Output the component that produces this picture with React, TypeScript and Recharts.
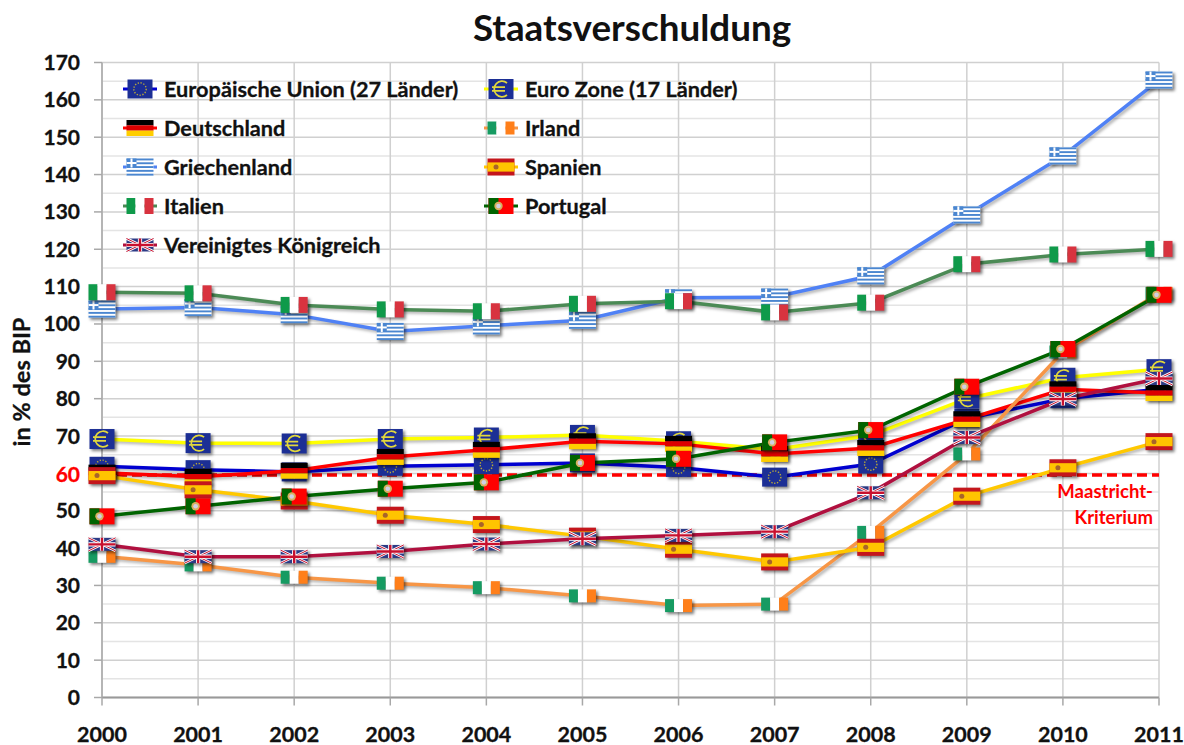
import React from "react";
import { LineChart, Line, XAxis, YAxis, CartesianGrid, ReferenceLine } from "recharts";

const years = ["2000","2001","2002","2003","2004","2005","2006","2007","2008","2009","2010","2011"];
const eu = [61.9, 61.0, 60.4, 61.9, 62.3, 62.8, 61.6, 59.0, 62.5, 74.7, 80.0, 82.5];
const euro = [69.2, 68.1, 68.0, 69.2, 69.6, 70.3, 68.6, 66.4, 70.2, 80.0, 85.6, 87.9];
const germany = [60.2, 59.1, 60.7, 64.4, 66.3, 68.6, 67.9, 65.2, 66.8, 74.5, 82.5, 81.5];
const ireland = [37.8, 35.5, 32.2, 30.6, 29.4, 27.2, 24.6, 25.0, 44.2, 65.2, 92.5, 108.2];
const greece = [104.0, 104.4, 102.5, 98.0, 99.5, 101.0, 107.0, 107.2, 112.9, 129.2, 145.0, 165.3];
const spain = [59.4, 55.6, 52.6, 48.8, 46.3, 43.2, 39.7, 36.3, 40.2, 53.9, 61.5, 68.5];
const italy = [108.5, 108.2, 105.1, 103.9, 103.4, 105.4, 106.1, 103.1, 105.7, 116.0, 118.6, 120.1];
const portugal = [48.5, 51.2, 53.8, 55.9, 57.6, 62.8, 63.9, 68.3, 71.6, 83.2, 93.3, 107.8];
const uk = [41.0, 37.7, 37.7, 39.1, 41.1, 42.5, 43.4, 44.4, 54.8, 69.6, 79.9, 85.4];
const yTicks = [0,10,20,30,40,50,60,70,80,90,100,110,120,130,140,150,160,170];
const minorTicks = [5,15,25,35,45,55,65,75,85,95,105,115,125,135,145,155,165];
const LIMIT_TICK = 60;
const LIMIT_LINE = 59.6;

type Kind = "eu"|"euro"|"de"|"ie"|"gr"|"es"|"it"|"pt"|"uk";
const seriesList: {key: Kind; name: string; color: string; values: number[]}[] = [
  { key: "eu", name: "Europäische Union (27 Länder)", color: "#0000d0", values: eu },
  { key: "euro", name: "Euro Zone (17 Länder)", color: "#ffff00", values: euro },
  { key: "de", name: "Deutschland", color: "#ff0000", values: germany },
  { key: "ie", name: "Irland", color: "#f79646", values: ireland },
  { key: "gr", name: "Griechenland", color: "#4f81f5", values: greece },
  { key: "es", name: "Spanien", color: "#ffc800", values: spain },
  { key: "it", name: "Italien", color: "#4b8a55", values: italy },
  { key: "pt", name: "Portugal", color: "#006400", values: portugal },
  { key: "uk", name: "Vereinigtes Königreich", color: "#b0103f", values: uk },
];
const data = years.map((year, i) => {
  const row: Record<string, number | string> = { year };
  seriesList.forEach((s) => { row[s.key] = s.values[i]; });
  return row;
});

const FONT = "Lato, 'Open Sans', sans-serif";
const INK = "#111";

function Flag({ kind, cx, cy }: { kind: Kind; cx: number; cy: number }) {
  const body = () => {
    switch (kind) {
      case "eu":
        return (<g>
          <rect x={-12.5} y={-9.5} width={25} height={19} fill="#1c2f95" />
          <circle r={6.2} fill="none" stroke="#b9a93a" strokeWidth={1.4} strokeDasharray="1.3 1.6" />
        </g>);
      case "euro":
        return (<g>
          <rect x={-12.5} y={-10} width={25} height={20} fill="#1c2f95" />
          <path d="M6 -6 A7.8 7.8 0 1 0 6 6 M-9 -1.8 H4 M-9 1.8 H4" fill="none" stroke="#e2d83c" strokeWidth={1.7} />
        </g>);
      case "de":
        return (<g>
          <rect x={-13.5} y={-8} width={27} height={5.4} fill="#000" />
          <rect x={-13.5} y={-2.7} width={27} height={5.4} fill="#dd0000" />
          <rect x={-13.5} y={2.6} width={27} height={5.4} fill="#ffce00" />
        </g>);
      case "ie":
        return (<g>
          <rect x={-13.5} y={-6.5} width={9} height={13} fill="#169b62" />
          <rect x={-4.5} y={-6.5} width={9} height={13} fill="#ffffff" />
          <rect x={4.5} y={-6.5} width={9} height={13} fill="#ff7f1a" />
        </g>);
      case "gr":
        return (<g>
          <rect x={-13.5} y={-8.5} width={27} height={17} fill="#ffffff" />
          {[-8.5,-4.7,-0.9,2.9,6.7].map((y) => <rect key={y} x={-13.5} y={y} width={27} height={1.9} fill="#4a86d0" />)}
          <rect x={-13.5} y={-8.5} width={10} height={9} fill="#4a86d0" />
          <rect x={-9.5} y={-8.5} width={2} height={9} fill="#fff" />
          <rect x={-13.5} y={-5} width={10} height={2} fill="#fff" />
        </g>);
      case "es":
        return (<g>
          <rect x={-13.5} y={-8.5} width={27} height={17} fill="#c4161c" />
          <rect x={-13.5} y={-4.6} width={27} height={9.2} fill="#ffc400" />
          <circle cx={-5} r={2.5} fill="#a8642a" />
        </g>);
      case "it":
        return (<g>
          <rect x={-13.5} y={-8} width={9} height={16} fill="#0f9a4a" />
          <rect x={-4.5} y={-8} width={9} height={16} fill="#ffffff" />
          <rect x={4.5} y={-8} width={9} height={16} fill="#d8333f" />
        </g>);
      case "pt":
        return (<g>
          <rect x={-12.5} y={-8} width={25} height={16} fill="#ff0000" />
          <rect x={-12.5} y={-8} width={10} height={16} fill="#006400" />
          <circle cx={-2.5} r={4.2} fill="#d8b060" />
          <circle cx={-2.5} r={2.3} fill="#d0d0e4" />
        </g>);
      case "uk":
        return (<g>
          <rect x={-13.5} y={-6.5} width={27} height={13} fill="#2c3a85" />
          <path d="M-13.5 -6.5 L13.5 6.5 M13.5 -6.5 L-13.5 6.5" stroke="#fff" strokeWidth={2.6} />
          <path d="M-13.5 -6.5 L13.5 6.5 M13.5 -6.5 L-13.5 6.5" stroke="#c8102e" strokeWidth={1} />
          <path d="M0 -6.5 V6.5 M-13.5 0 H13.5" stroke="#fff" strokeWidth={4.2} />
          <path d="M0 -6.5 V6.5 M-13.5 0 H13.5" stroke="#c8102e" strokeWidth={2.4} />
        </g>);
    }
  };
  return <g transform={`translate(${cx},${cy})`}>{body()}</g>;
}

const legendRows: { key: Kind; col: number; row: number }[] = [
  { key: "eu", col: 0, row: 0 }, { key: "euro", col: 1, row: 0 },
  { key: "de", col: 0, row: 1 }, { key: "ie", col: 1, row: 1 },
  { key: "gr", col: 0, row: 2 }, { key: "es", col: 1, row: 2 },
  { key: "it", col: 0, row: 3 }, { key: "pt", col: 1, row: 3 },
  { key: "uk", col: 0, row: 4 },
];

function LegendEntry({ k, col, row }: { k: Kind; col: number; row: number }) {
  const s = seriesList.find((x) => x.key === k)!;
  const cx = col === 0 ? 140 : 501;
  const cy = 89 + row * 39;
  return (
    <g>
      <line x1={cx - 17} x2={cx + 17} y1={cy} y2={cy} stroke={s.color} strokeWidth={3} />
      <Flag kind={k} cx={cx} cy={cy} />
      <text x={cx + 24} y={cy + 7.5} fontFamily={FONT} fontWeight={700} fontSize={21.7} fill={INK} stroke={INK} strokeWidth={0.3}>{s.name}</text>
    </g>
  );
}

function YTick({ x, y, payload }: any) {
  const isLimit = payload.value === LIMIT_TICK;
  const c = isLimit ? "#ff0000" : INK;
  return (
    <text x={x - 12} y={y + (isLimit ? 9 : 7.5)} textAnchor="end" fontFamily={FONT} fontWeight={700} fontSize={21} fill={c} stroke={c} strokeWidth={0.3}>{payload.value}</text>
  );
}
function XTick({ x, y, payload }: any) {
  return (
    <text x={x} y={y + 34} textAnchor="middle" fontFamily={FONT} fontWeight={700} fontSize={21.5} fill={INK} stroke={INK} strokeWidth={0.3}>{payload.value}</text>
  );
}

const css = `
body { margin: 0; background: #fff; }
.recharts-line-curve { filter: drop-shadow(2px 2.5px 1.5px rgba(0,0,0,.3)); }
.recharts-line-dot { filter: drop-shadow(2px 2px 1.5px rgba(0,0,0,.5)); }
`;

export default function App() {
  return (
    <div style={{ width: 1184, height: 745 }}>
      <style>{css}</style>
      <LineChart width={1184} height={745} data={data} margin={{ top: 62.5, right: 25, bottom: 0, left: 0 }}>
        <CartesianGrid horizontalValues={minorTicks} vertical={false} stroke="#e4e4e4" strokeWidth={1.5} />
        <CartesianGrid horizontalValues={yTicks} stroke="#d0d0d0" strokeWidth={1.5} />
        <XAxis dataKey="year" height={47.5} interval={0} tick={<XTick />} tickSize={8}
          tickLine={{ stroke: "#a8a8a8", strokeWidth: 1.5 }} axisLine={{ stroke: "#999", strokeWidth: 2 }} />
        <YAxis width={102} domain={[0, 170]} ticks={yTicks} interval={0} tick={<YTick />} tickSize={8}
          tickLine={{ stroke: "#a8a8a8", strokeWidth: 1.5 }} axisLine={{ stroke: "#a8a8a8", strokeWidth: 1.5 }} />
        <ReferenceLine y={LIMIT_LINE} stroke="#ff0000" strokeWidth={3.5} strokeDasharray="10 5" />
        {seriesList.map((s) => (
          <Line key={s.key} dataKey={s.key} stroke={s.color} strokeWidth={3.5} isAnimationActive={false}
            dot={(p: any) => <g key={p.index} className="recharts-line-dot"><Flag kind={s.key} cx={p.cx} cy={p.cy} /></g>} />
        ))}
        <text x={632} y={41} textAnchor="middle" fontFamily={FONT} fontWeight={700} fontSize={36.8} fill={INK}>Staatsverschuldung</text>
        <text transform="translate(30,382) rotate(-90)" textAnchor="middle" fontFamily={FONT} fontWeight={700} fontSize={23.5} fill={INK} stroke={INK} strokeWidth={0.3}>in % des BIP</text>
        <text x={1153} y={498} textAnchor="end" fontFamily={FONT} fontWeight={700} fontSize={18.5} fill="#ff0000">Maastricht-</text>
        <text x={1153} y={524} textAnchor="end" fontFamily={FONT} fontWeight={700} fontSize={18.5} fill="#ff0000">Kriterium</text>
        {legendRows.map((r) => <LegendEntry key={r.key} k={r.key} col={r.col} row={r.row} />)}
      </LineChart>
    </div>
  );
}
